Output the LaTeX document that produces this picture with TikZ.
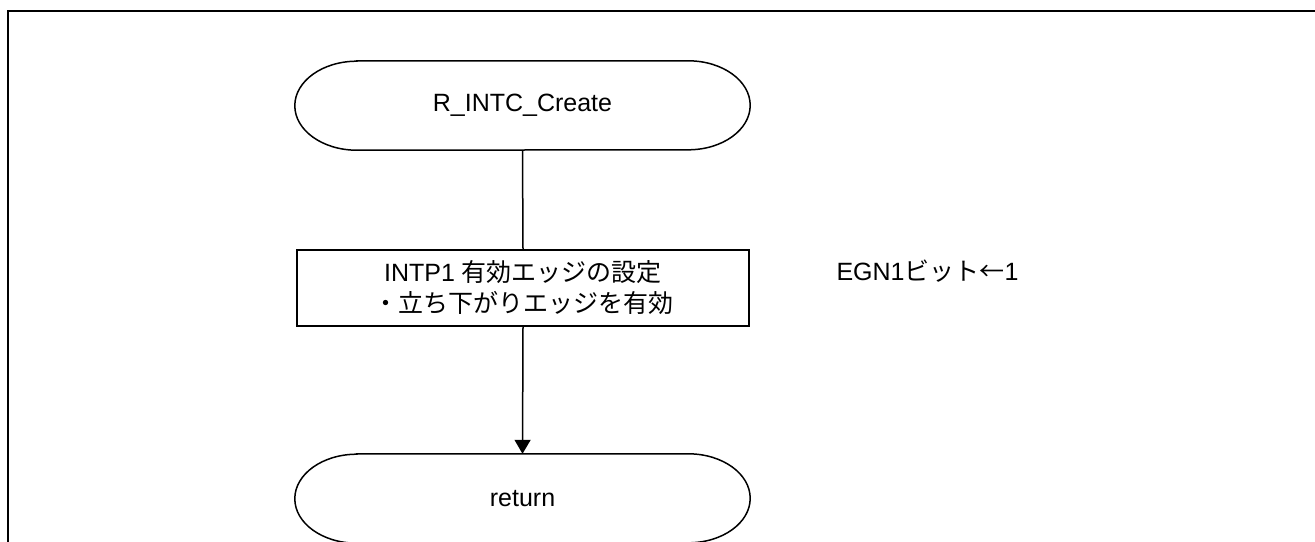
\documentclass[tikz,border=0pt]{standalone}
\usepackage{fontspec}
\setmainfont{Liberation Sans}
\newfontfamily\jp{Noto Sans CJK JP}
\usetikzlibrary{arrows.meta}
\newcommand\termoutline[1]{%
  \draw[conn] ([xshift=62pt]#1.north west) -- ([xshift=-62pt]#1.north east)
    arc[start angle=90, end angle=-90, x radius=62pt, y radius=44.5pt]
    -- ([xshift=62pt]#1.south west)
    arc[start angle=270, end angle=90, x radius=62pt, y radius=44.5pt] -- cycle;}
\begin{document}
\begin{tikzpicture}[x=1pt,y=-1pt,
  font=\fontsize{25}{31}\selectfont,
  term/.style={minimum width=455pt, minimum height=89pt, inner sep=0pt},
  proc/.style={draw, line width=2pt, minimum width=452pt, minimum height=76pt, align=center, inner sep=0pt},
  conn/.style={line width=1.5pt},
  frame/.style={line width=2.2pt}]
\useasboundingbox (0,0) rectangle (1315,541);
\draw[frame] (1320,11) -- (8,11) -- (8,546);
\node[term] (start) at (522.5,105.5) {R\_INTC\_Create};
\node[proc] (p1) at (523,288) {INTP1 {\jp 有効エッジの設定}\\{\jp ・立ち下がりエッジを有効}};
\node[term] (ret) at (522.5,498.5) {return};
\node (note) at (927.5,271) {EGN1{\jp ビット←}1};
\termoutline{start}
\termoutline{ret}
\draw[conn] (start.south) -- (p1.north);
\draw[conn, -{Triangle[length=14pt,width=16pt]}] (p1.south) -- (ret.north);
\end{tikzpicture}
\end{document}
